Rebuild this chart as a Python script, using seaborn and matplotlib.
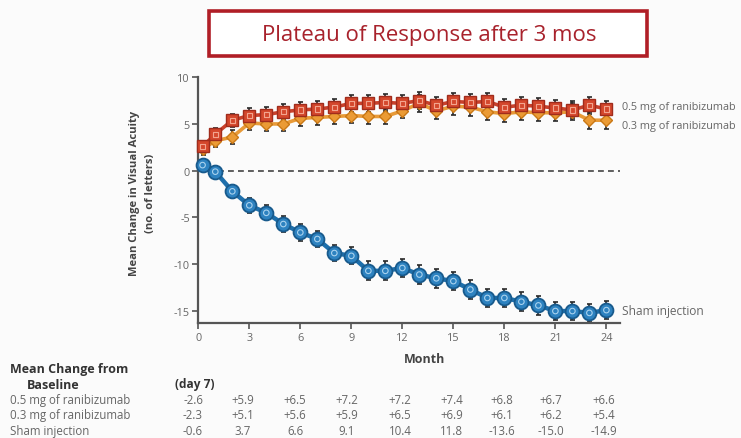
import numpy as np
import pandas as pd
import matplotlib
matplotlib.use("Agg")
import matplotlib.pyplot as plt
from matplotlib.patches import Rectangle
import seaborn as sns

# ---------------- data ----------------
months = [0.25] + list(range(1, 25))
r05 = [2.6, 3.9, 5.4, 5.9, 6.0, 6.3, 6.5, 6.6, 6.8, 7.2, 7.2, 7.3, 7.2,
       7.5, 7.0, 7.4, 7.3, 7.4, 6.8, 7.0, 6.9, 6.7, 6.5, 7.0, 6.6]
r03 = [2.3, 3.2, 3.6, 5.1, 5.0, 5.0, 5.6, 5.7, 5.8, 5.9, 5.8, 5.8, 6.4,
       7.2, 6.4, 6.9, 6.8, 6.3, 6.1, 6.3, 6.2, 6.2, 6.3, 5.4, 5.4]
sham = [0.6, -0.1, -2.2, -3.7, -4.5, -5.7, -6.6, -7.3, -8.8, -9.1, -10.7,
        -10.7, -10.4, -11.1, -11.5, -11.8, -12.7, -13.6, -13.6, -14.0,
        -14.4, -15.0, -15.0, -15.2, -14.9]
err05 = [0.6, 0.7, 0.7, 0.8, 0.8, 0.8, 0.8, 0.8, 0.9, 0.9, 0.9, 0.9, 0.9,
         0.9, 0.9, 0.9, 0.9, 0.9, 0.9, 0.9, 0.9, 0.9, 0.9, 0.9, 0.9]
err03 = [0.6, 0.7, 0.7, 0.8, 0.8, 0.8, 0.8, 0.8, 0.8, 0.8, 0.8, 0.8, 0.8,
         0.9, 0.9, 0.9, 0.9, 0.9, 0.9, 0.9, 0.9, 0.9, 0.9, 0.9, 0.9]
errsh = [0.5, 0.6, 0.7, 0.8, 0.8, 0.9, 0.9, 0.9, 0.9, 0.9, 1.0, 1.0, 1.0,
         1.0, 1.0, 1.0, 1.0, 1.0, 1.0, 1.0, 1.0, 1.0, 1.0, 1.0, 1.0]

series_labels = ["0.5 mg of ranibizumab", "0.3 mg of ranibizumab", "Sham injection"]
x_ticks = [0, 3, 6, 9, 12, 15, 18, 21, 24]
y_ticks = [-15, -10, -5, 0, 5, 10]

table_header = "(day 7)"
table_rows = {
    "0.5 mg of ranibizumab": ["-2.6", "+5.9", "+6.5", "+7.2", "+7.2", "+7.4", "+6.8", "+6.7", "+6.6"],
    "0.3 mg of ranibizumab": ["-2.3", "+5.1", "+5.6", "+5.9", "+6.5", "+6.9", "+6.1", "+6.2", "+5.4"],
    "Sham injection":        ["-0.6", "3.7", "6.6", "9.1", "10.4", "11.8", "-13.6", "-15.0", "-14.9"],
}
title_text = "Plateau of Response after 3 mos"

# ---------------- figure ----------------
sns.set_style("white")
plt.rcParams["font.family"] = ["Open Sans", "DejaVu Sans"]

W, H = 741, 439
fig = plt.figure(figsize=(W / 100, H / 100), dpi=100)
fig.patch.set_facecolor("#fbfbfb")

def fx(px):
    return px / W

def fy(py):
    return 1 - py / H

ax = fig.add_axes([fx(198.3), fy(324.2), fx(620) - fx(198.3), fy(73.5) - fy(324.2)])
ax.set_facecolor("#fbfbfb")

df = pd.DataFrame({"month": months, "r05": r05, "r03": r03, "sham": sham})

# error bars
ecol = "#2a2a2a"
for y, e in [(r03, err03), (r05, err05), (sham, errsh)]:
    ax.errorbar(months, y, yerr=e, fmt="none", ecolor=ecol, elinewidth=1.2,
                capsize=1.8, capthick=1.2, zorder=2, clip_on=False)

# zero line
ax.plot([0, 24.8], [0, 0], ls=(0, (3.5, 2.5)), color="#444444", lw=1.2, zorder=1)

# lines + markers
sns.lineplot(data=df, x="month", y="r03", ax=ax, color="#e89a38", lw=2.6,
             marker="D", markersize=6.5, markerfacecolor="#eb9b35",
             markeredgecolor="#c97816", markeredgewidth=1.0, zorder=3, clip_on=False)
sns.lineplot(data=df, x="month", y="r05", ax=ax, color="#c9412b", lw=2.6,
             marker="s", markersize=8.5, markerfacecolor="#d4472c",
             markeredgecolor="#a02c1c", markeredgewidth=1.0, zorder=4, clip_on=False)
sns.lineplot(data=df, x="month", y="sham", ax=ax, color="#1e6fab", lw=3.2,
             marker="o", markersize=10, markerfacecolor="#2d82c0",
             markeredgecolor="#185a8c", markeredgewidth=1.3, zorder=4, clip_on=False)
# inner highlights
sns.scatterplot(x=months, y=r05, ax=ax, marker="s", s=14, facecolor="none",
                edgecolor="#f3a48e", linewidth=0.8, zorder=5, clip_on=False)
sns.scatterplot(x=months, y=sham, ax=ax, marker="o", s=16, facecolor="none",
                edgecolor="#a9d2ee", linewidth=0.8, zorder=5, clip_on=False)

ax.set_xlim(0, 24.8)
ax.set_ylim(-16.3, 10.5)
ax.set_xlabel("")
ax.set_ylabel("")

for s in ["top", "right"]:
    ax.spines[s].set_visible(False)
for s in ["left", "bottom"]:
    ax.spines[s].set_color("#555555")
    ax.spines[s].set_linewidth(1.6)
ax.spines["left"].set_bounds(-16.3, 10)

ax.set_xticks(x_ticks)
ax.set_xticklabels([str(t) for t in x_ticks])
ax.set_xticks(list(range(0, 25)), minor=True)
ax.set_yticks(y_ticks)
ax.set_yticklabels([str(t) for t in y_ticks])
ax.tick_params(axis="both", which="major", direction="out", length=4, width=1.2,
               color="#555555", labelcolor="#666666", labelsize=7.8, pad=2)
ax.tick_params(axis="x", which="minor", direction="out", length=3, width=1.0,
               color="#555555")
ax.tick_params(axis="x", which="major", bottom=True)
ax.tick_params(axis="y", which="major", left=True)

# series labels at right
lab_kw = dict(fontsize=7.8, color="#666666", va="center", ha="left", clip_on=False)
ax.text(24.9, 6.9, series_labels[0], **lab_kw)
ax.text(24.9, 4.8, series_labels[1], **lab_kw)
ax.text(24.9, -14.9, series_labels[2], fontsize=8.6, color="#666666",
        va="center", ha="left", clip_on=False)

# axis labels
fig.text(fx(142.5), fy(193), "Mean Change in Visual Acuity\n(no. of letters)",
         rotation=90, ha="center", va="center", fontsize=8.1, fontweight="bold",
         color="#444444", linespacing=1.6)
fig.text(fx(425), fy(360), "Month", ha="center", va="center", fontsize=9,
         fontweight="bold", color="#444444")

# title box
fig.patches.append(Rectangle((fx(209), fy(57)), fx(647) - fx(209), fy(12) - fy(57),
                             transform=fig.transFigure, facecolor="white",
                             edgecolor="#b01e26", linewidth=2.6, zorder=10))
fig.text(fx(429), fy(35), title_text, ha="center", va="center", fontsize=16,
         color="#a8222c", zorder=11, family=["Open Sans", "DejaVu Sans"])

# table
fig.text(fx(10), fy(369), "Mean Change from", ha="left", va="center",
         fontsize=9, fontweight="bold", color="#333333")
fig.text(fx(27), fy(386), "Baseline", ha="left", va="center",
         fontsize=9, fontweight="bold", color="#333333")
fig.text(fx(175), fy(385), table_header, ha="left", va="center",
         fontsize=8.6, fontweight="bold", color="#333333")
col_x = [193, 243, 295, 347, 400, 452, 502, 551, 604]
row_y = [401, 416, 432]
for (lab, vals), yy in zip(table_rows.items(), row_y):
    fig.text(fx(10), fy(yy), lab, ha="left", va="center", fontsize=8.3, color="#666666")
    for v, xx in zip(vals, col_x):
        fig.text(fx(xx), fy(yy), v, ha="center", va="center", fontsize=8.3,
                 color="#666666")

fig.savefig("out.png", dpi=100, facecolor=fig.get_facecolor())
